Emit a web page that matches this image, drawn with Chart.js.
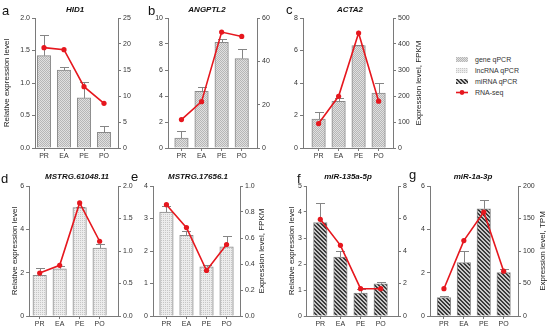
<!DOCTYPE html>
<html>
<head>
<meta charset="utf-8">
<script src="https://cdn.jsdelivr.net/npm/chart.js@4"></script>
<style>
  body { margin: 0; background: #fff; width: 550px; height: 330px; position: relative; overflow: hidden;
         font-family: "Liberation Sans", Arial, sans-serif; color: #222; }
  canvas.panel { position: absolute; }
  .lab { position: absolute; font-size: 13px; line-height: 1; color: #111; }
  .gene { position: absolute; font-size: 8px; line-height: 1; font-weight: bold; font-style: italic;
          transform: translateX(-50%); white-space: nowrap; color: #111; }
  #legend { position: absolute; left: 456px; top: 54px; font-size: 7px; line-height: 11px; color: #333; }
  #legend div { height: 11px; position: relative; padding-left: 19px; white-space: nowrap; }
  #legend canvas { position: absolute; left: 0; top: 3px; }
</style>
</head>
<body>
<div id="legend"></div>
<script>
// categories
const cats = ['PR', 'EA', 'PE', 'PO'];

// a HID1 (gene)
const hid1Qpcr = [1.42, 1.20, 0.77, 0.24];
const hid1Sd = [0.32, 0.05, 0.24, 0.10];
const hid1Seq = [19.3, 18.9, 11.8, 8.6];

// b ANGPTL2 (gene)
const angptl2Qpcr = [0.77, 4.36, 8.13, 6.87];
const angptl2Sd = [0.56, 0.31, 0.25, 0.77];
const angptl2Seq = [13.1, 21.4, 53.5, 51.5];

// c ACTA2 (gene)
const acta2Qpcr = [1.78, 2.87, 6.30, 3.38];
const acta2Sd = [0.44, 0.21, 0.06, 0.62];
const acta2Seq = [94, 199, 442, 180];

// d MSTRG.61048.11 (lncRNA)
const mstrg61048Qpcr = [1.88, 2.18, 5.00, 3.14];
const mstrg61048Sd = [0.35, 0.13, 0.03, 0.20];
const mstrg61048Seq = [0.66, 0.78, 1.74, 1.15];

// e MSTRG.17656.1 (lncRNA)
const mstrg17656Qpcr = [3.20, 2.48, 1.51, 2.13];
const mstrg17656Sd = [0.17, 0.15, 0.07, 0.32];
const mstrg17656Seq = [0.856, 0.68, 0.35, 0.55];

// f miR-135a-5p (miRNA)
const mir135Qpcr = [3.59, 2.27, 0.88, 1.24];
const mir135Sd = [0.77, 0.23, 0.17, 0.07];
const mir135Seq = [5.95, 4.35, 1.68, 1.68];

// g miR-1a-3p (miRNA)
const mir1Qpcr = [0.85, 2.46, 4.95, 2.00];
const mir1Sd = [0.07, 0.54, 0.42, 0.15];
const mir1Seq = [42, 116, 160, 69];

const legendLabels = ['gene qPCR', 'lncRNA qPCR', 'miRNA qPCR', 'RNA-seq'];

const red = '#e6171e';
const axisCol = '#7a7a7a';
const fontFam = '"Liberation Sans", Arial, sans-serif';

// 填充圖樣
function makePattern(w, h, bg, fg, pts) {
    const c = document.createElement('canvas');
    c.width = w; c.height = h;
    const g = c.getContext('2d');
    g.fillStyle = bg;
    g.fillRect(0, 0, w, h);
    g.fillStyle = fg;
    pts.forEach(p => g.fillRect(p[0], p[1], 1, 1));
    return g.createPattern(c, 'repeat');
}
const genePat = makePattern(2, 2, '#e0e0e0', '#b6b6b6', [[0, 0], [1, 1]]);
const lncPat = makePattern(2, 2, '#ececec', '#c6c6c6', [[0, 0]]);
const mirPat = makePattern(4, 4, '#c8c8c8', '#3a3a3a',
    [[0, 0], [1, 0], [1, 1], [2, 1], [2, 2], [3, 2], [3, 3], [0, 3]]);

// error bars (upper only)
const errorBars = {
    id: 'errorBars',
    afterDatasetDraw(chart, args, opts) {
        if (args.index !== 0 || !opts.sd) return;
        const ctx = chart.ctx;
        const y = chart.scales.y;
        ctx.save();
        ctx.strokeStyle = '#858585';
        ctx.lineWidth = 1;
        args.meta.data.forEach((bar, i) => {
            const v = chart.data.datasets[0].data[i].y;
            const top = Math.round(y.getPixelForValue(v + opts.sd[i])) + 0.5;
            const x = Math.round(bar.x) + 0.5;
            ctx.beginPath();
            ctx.moveTo(x, bar.y);
            ctx.lineTo(x, top);
            ctx.moveTo(x - 4.5, top);
            ctx.lineTo(x + 4.5, top);
            ctx.stroke();
        });
        ctx.restore();
    }
};

// right axis title, reading bottom to top
const rightTitle = {
    id: 'rightTitle',
    afterDraw(chart, args, opts) {
        if (!opts.text) return;
        const ctx = chart.ctx;
        const s = chart.scales.y2;
        const area = chart.chartArea;
        ctx.save();
        ctx.translate(s.left + opts.offset, (area.top + area.bottom) / 2);
        ctx.rotate(-Math.PI / 2);
        ctx.textAlign = 'center';
        ctx.textBaseline = 'middle';
        ctx.fillStyle = '#222';
        ctx.font = '8px ' + fontFam;
        ctx.fillText(opts.text, 0, 0);
        ctx.restore();
    }
};

const panels = [
    { letter: 'a', lx: 2, ly: 4.4, gene: 'HID1', gx: 75, gy: 6, qpcr: hid1Qpcr, sd: hid1Sd, seq: hid1Seq, fill: genePat,
      y: [0, 2, 0.5, 1], y2: [0, 25, 5, 0], L: 35, R: 118, T: 18.3, xmin: -0.45, xmax: 3.7, leftTitle: true, leftW: 35, rightW: 18 },
    { letter: 'b', lx: 148, ly: 3.7, gene: 'ANGPTL2', gx: 207, gy: 6, qpcr: angptl2Qpcr, sd: angptl2Sd, seq: angptl2Seq, fill: genePat,
      y: [0, 10, 2, 0], y2: [0, 60, 20, 0], L: 168.3, R: 257, T: 18.3, xmin: -0.67, xmax: 3.76, leftW: 18, rightW: 18 },
    { letter: 'c', lx: 286, ly: 3.4, gene: 'ACTA2', gx: 350, gy: 6, qpcr: acta2Qpcr, sd: acta2Sd, seq: acta2Seq, fill: genePat,
      y: [0, 8, 2, 0], y2: [0, 500, 100, 0], L: 302.7, R: 392.7, T: 18.3, xmin: -0.78, xmax: 3.72, leftW: 18, rightW: 34,
      rightTitle: 'Expression level, FPKM', rtOff: 25.6 },
    { letter: 'd', lx: 1, ly: 171.7, gene: 'MSTRG.61048.11', gx: 77, gy: 173, qpcr: mstrg61048Qpcr, sd: mstrg61048Sd, seq: mstrg61048Seq, fill: lncPat,
      y: [0, 6, 2, 0], y2: [0, 2, 0.5, 1], L: 29.3, R: 118.3, T: 185.7, xmin: -0.53, xmax: 3.92, leftTitle: true, leftW: 21.1, rightW: 18 },
    { letter: 'e', lx: 131, ly: 170.4, gene: 'MSTRG.17656.1', gx: 198, gy: 173, qpcr: mstrg17656Qpcr, sd: mstrg17656Sd, seq: mstrg17656Seq, fill: lncPat,
      y: [0, 4, 1, 0], y2: [0, 1, 0.2, 1], L: 152.7, R: 239.3, T: 185.7, xmin: -0.67, xmax: 3.67, leftW: 18, rightW: 28,
      rightTitle: 'Expression level, FPKM', rtOff: 21.4 },
    { letter: 'f', lx: 297, ly: 171.7, gene: 'miR-135a-5p', gx: 348, gy: 173, qpcr: mir135Qpcr, sd: mir135Sd, seq: mir135Seq, fill: mirPat,
      y: [0, 5, 1, 0], y2: [0, 8, 2, 0], L: 306.7, R: 398.3, T: 185.7, xmin: -0.67, xmax: 3.86, leftTitle: true, leftW: 21.8, rightW: 18 },
    { letter: 'g', lx: 409, ly: 168, gene: 'miR-1a-3p', gx: 473, gy: 173, qpcr: mir1Qpcr, sd: mir1Sd, seq: mir1Seq, fill: mirPat,
      y: [0, 6, 2, 0], y2: [0, 200, 50, 0], L: 430, R: 518.3, T: 185.7, xmin: -0.7, xmax: 3.72, leftW: 18, rightW: 31,
      rightTitle: 'Expression level, TPM', rtOff: 25 }
];

const tickFont = { family: fontFam, size: 7 };

function yAxis(pos, range, width) {
    return {
        position: pos,
        min: range[0],
        max: range[1],
        ticks: { stepSize: range[2], font: tickFont, color: '#333', padding: 2,
                 callback: v => v.toFixed(range[3]) },
        grid: { drawOnChartArea: false, tickLength: 3, color: axisCol },
        border: { color: axisCol },
        afterFit: s => { s.width = width; }
    };
}

function makePanel(p) {
    const W = Math.round(p.leftW + (p.R - p.L) + p.rightW);
    const H = 10 + 130 + 16;
    const cv = document.createElement('canvas');
    cv.className = 'panel';
    cv.width = W; cv.height = H;
    cv.style.left = (p.L - p.leftW) + 'px';
    cv.style.top = (p.T - 10) + 'px';
    document.body.appendChild(cv);

    const left = yAxis('left', p.y, p.leftW);
    left.title = { display: !!p.leftTitle, text: 'Relative expression level', color: '#222',
                   font: { family: fontFam, size: 8 }, padding: { top: 2, bottom: 0 } };

    new Chart(cv, {
        data: {
            datasets: [{
                type: 'bar',
                data: p.qpcr.map((v, i) => ({ x: i, y: v })),
                backgroundColor: p.fill,
                borderColor: '#8a8a8a',
                borderWidth: 1,
                barThickness: 13.5,
                yAxisID: 'y',
                order: 1
            }, {
                type: 'line',
                data: p.seq.map((v, i) => ({ x: i, y: v })),
                borderColor: red,
                backgroundColor: red,
                borderWidth: 1.6,
                pointRadius: 2.6,
                pointBorderWidth: 0,
                pointBackgroundColor: red,
                yAxisID: 'y2',
                order: 0
            }]
        },
        options: {
            responsive: false,
            animation: false,
            layout: { padding: { top: 10, left: 0, right: 0, bottom: 0 } },
            plugins: {
                legend: { display: false },
                tooltip: { enabled: false },
                errorBars: { sd: p.sd },
                rightTitle: { text: p.rightTitle, offset: p.rtOff }
            },
            scales: {
                x: {
                    type: 'linear',
                    offset: false,
                    min: p.xmin,
                    max: p.xmax,
                    afterBuildTicks: s => { s.ticks = cats.map((c, i) => ({ value: i })); },
                    ticks: { font: tickFont, color: '#333', padding: 1, maxRotation: 0, autoSkip: false,
                             callback: v => cats[v] || '' },
                    grid: { offset: false, drawOnChartArea: false, tickLength: 3, color: axisCol },
                    border: { color: axisCol },
                    afterFit: s => { s.height = 16; }
                },
                y: left,
                y2: yAxis('right', p.y2, p.rightW)
            }
        },
        plugins: [errorBars, rightTitle]
    });

    const lab = document.createElement('div');
    lab.className = 'lab';
    lab.textContent = p.letter;
    lab.style.left = p.lx + 'px';
    lab.style.top = p.ly + 'px';
    document.body.appendChild(lab);

    const gene = document.createElement('div');
    gene.className = 'gene';
    gene.textContent = p.gene;
    gene.style.left = p.gx + 'px';
    gene.style.top = p.gy + 'px';
    document.body.appendChild(gene);
}

panels.forEach(makePanel);

// legend
const legendEl = document.getElementById('legend');
const swatchFills = [genePat, lncPat, mirPat, null];
legendLabels.forEach((txt, i) => {
    const row = document.createElement('div');
    const sw = document.createElement('canvas');
    sw.width = 12; sw.height = 5;
    const g = sw.getContext('2d');
    if (swatchFills[i]) {
        g.fillStyle = swatchFills[i];
        g.fillRect(0, 0, 12, 5);
    } else {
        g.strokeStyle = red;
        g.lineWidth = 1.6;
        g.beginPath(); g.moveTo(0, 2.5); g.lineTo(12, 2.5); g.stroke();
        g.fillStyle = red;
        g.beginPath(); g.arc(6, 2.5, 2.4, 0, Math.PI * 2); g.fill();
    }
    row.appendChild(sw);
    row.appendChild(document.createTextNode(txt));
    legendEl.appendChild(row);
});
</script>
</body>
</html>
